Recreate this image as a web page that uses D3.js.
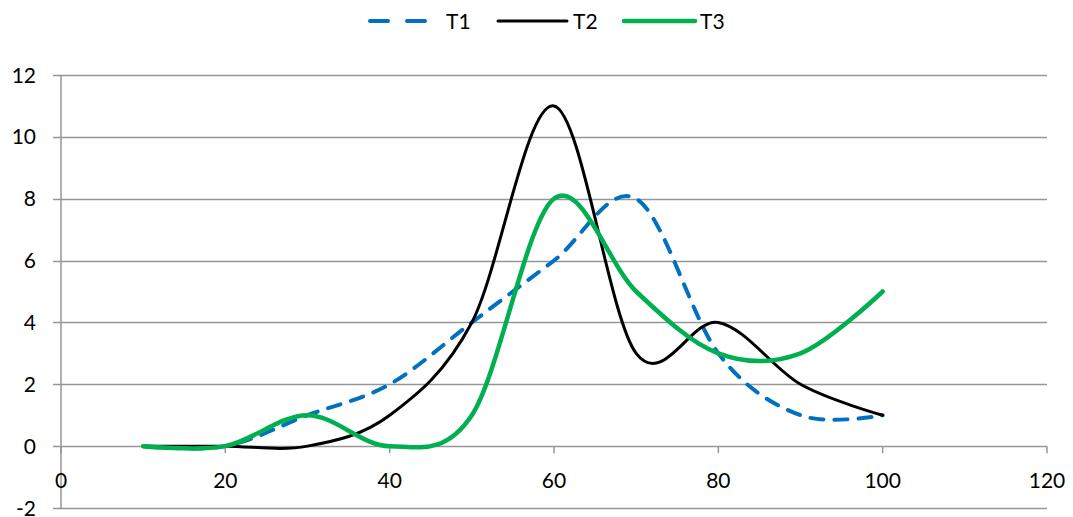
<!DOCTYPE html>
<html><head><meta charset="utf-8">
<script src="https://cdn.jsdelivr.net/npm/d3@7"></script>
<style>body{margin:0;background:#fff}svg{display:block}</style>
</head><body>
<script>
const xValues = [10,20,30,40,50,60,70,80,90,100];
const t1 = [0,0,1,2,4,6,8,3,1,1];
const t2 = [0,0,0,1,4,11,3,4,2,1];
const t3 = [0,0,1,0,1,8,5,3,3,5];
const seriesNames = ["T1","T2","T3"];
const xTicks = [0,20,40,60,80,100,120];
const yTicks = [-2,0,2,4,6,8,10,12];

const W=1073,H=517;
const svg=d3.select("body").append("svg").attr("width",W).attr("height",H);
const x=d3.scaleLinear().domain([0,120]).range([61,1047]);
const y=d3.scaleLinear().domain([-2,12]).range([508,75]);
const font="Lato, 'Open Sans', sans-serif";
const fs=21;
const grid="#969696";

// gridlines
svg.append("g").selectAll("line").data(yTicks).join("line")
  .attr("x1",53).attr("x2",x(120)).attr("y1",d=>Math.round(y(d))+0.5).attr("y2",d=>Math.round(y(d))+0.5)
  .attr("stroke",grid).attr("stroke-width",1.5);
// y axis line
svg.append("line").attr("x1",x(0)).attr("x2",x(0)).attr("y1",y(12)).attr("y2",y(-2))
  .attr("stroke",grid).attr("stroke-width",1.5);
// y labels
svg.append("g").selectAll("text").data(yTicks).join("text")
  .attr("x",36).attr("y",d=>y(d)).attr("dy","0.36em").attr("text-anchor","end")
  .attr("font-family",font).attr("font-size",fs).attr("fill","#000").text(d=>d);
// x ticks at y=0
svg.append("g").selectAll("line").data(xTicks).join("line")
  .attr("x1",d=>x(d)).attr("x2",d=>x(d)).attr("y1",y(0)).attr("y2",y(0)+7)
  .attr("stroke",grid).attr("stroke-width",1.5);
svg.append("g").selectAll("text").data(xTicks).join("text")
  .attr("x",d=>x(d)).attr("y",y(0)+42).attr("text-anchor","middle")
  .attr("font-family",font).attr("font-size",fs).attr("fill","#000").text(d=>d);

const line=d3.line().x(d=>x(d[0])).y(d=>y(d[1])).curve(d3.curveCardinal.tension(0));
const mk=arr=>xValues.map((v,i)=>[v,arr[i]]);
const styles=[
  {data:t1,color:"#0070C0",w:4,dash:"13,11",cap:"round"},
  {data:t2,color:"#000000",w:3,dash:null,cap:"round"},
  {data:t3,color:"#00B050",w:4.5,dash:null,cap:"round"}
];
styles.forEach(s=>{
  svg.append("path").attr("d",line(mk(s.data))).attr("fill","none")
    .attr("stroke",s.color).attr("stroke-width",s.w).attr("stroke-linecap",s.cap)
    .attr("stroke-dasharray",s.dash);
});

// legend
const leg=[{x1:370,x2:428,tx:446},{x1:498,x2:567,tx:573},{x1:624,x2:695,tx:700}];
leg.forEach((l,i)=>{
  const s=styles[i];
  svg.append("line").attr("x1",l.x1).attr("x2",l.x2).attr("y1",21).attr("y2",21)
    .attr("stroke",s.color).attr("stroke-width",s.w).attr("stroke-linecap",s.cap)
    .attr("stroke-dasharray",i===0?"18,19":null);
  svg.append("text").attr("x",l.tx).attr("y",21).attr("dy","0.36em")
    .attr("font-family",font).attr("font-size",fs).attr("fill","#000").text(seriesNames[i]);
});
</script>
</body></html>
